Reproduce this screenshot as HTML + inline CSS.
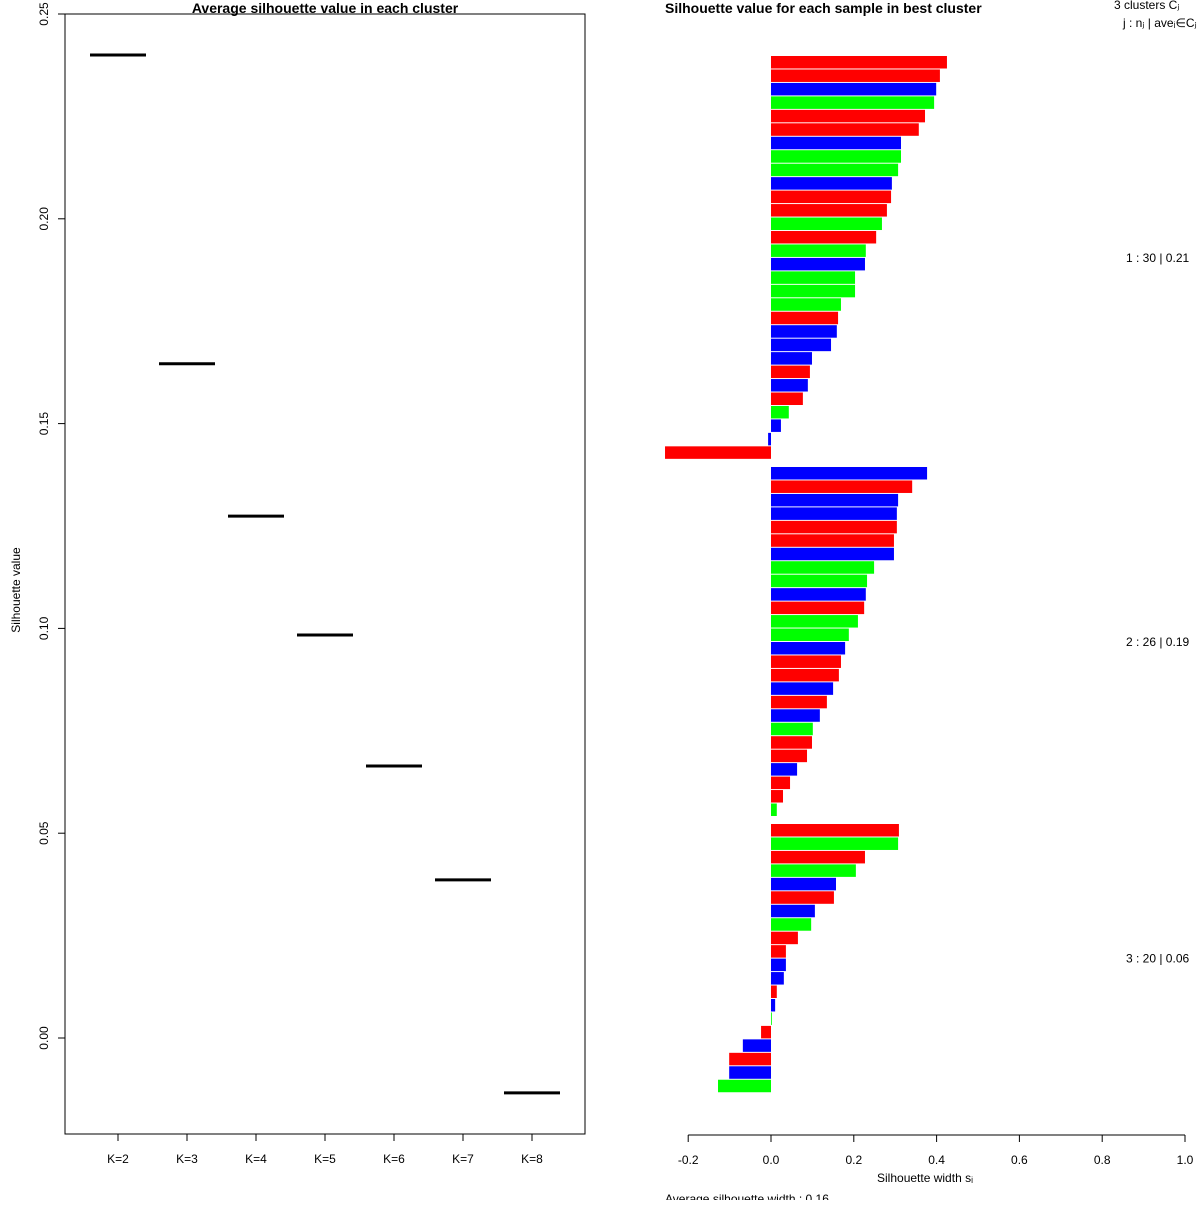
<!DOCTYPE html>
<html><head><meta charset="utf-8"><style>
body{margin:0;background:#fff}
svg text{font-family:"Liberation Sans",sans-serif;fill:#000}
</style></head><body>
<svg id="chart" width="1200" height="1200" xmlns="http://www.w3.org/2000/svg">
<rect width="1200" height="1200" fill="#fff"/>
<g id="left"></g>
<g id="right"></g>
</svg>
<script>
const kLabels=["K=2","K=3","K=4","K=5","K=6","K=7","K=8"];
const avgSil=[0.240,0.1646,0.1274,0.0984,0.0664,0.0386,-0.0134];
const yTicks=[0,0.05,0.10,0.15,0.20,0.25];
const c1Vals=[0.425,0.408,0.399,0.394,0.372,0.357,0.314,0.314,0.307,0.292,0.290,0.280,0.268,0.254,0.229,0.227,0.203,0.203,0.169,0.162,0.159,0.145,0.099,0.094,0.089,0.077,0.043,0.024,-0.007,-0.256];
const c1Cols="RRBGRRBGGBRRGRGBGGGRBBBRBRGBBR";
const c2Vals=[0.377,0.341,0.307,0.304,0.304,0.297,0.297,0.249,0.232,0.229,0.225,0.210,0.188,0.179,0.169,0.164,0.150,0.135,0.118,0.101,0.099,0.087,0.063,0.046,0.029,0.014];
const c2Cols="BRBBRRBGGBRGGBRRBRBGRRBRRG";
const c3Vals=[0.309,0.307,0.227,0.205,0.157,0.152,0.106,0.097,0.065,0.036,0.036,0.031,0.014,0.010,0.002,-0.024,-0.068,-0.101,-0.101,-0.128];
const c3Cols="RGRGBRBGRRBBRBGRBRBG";
const clusterLabels=["1 :  30  |  0.21","2 :  26  |  0.19","3 :  20  |  0.06"];
const xTicks=[-0.2,0,0.2,0.4,0.6,0.8,1.0];
const NS="http://www.w3.org/2000/svg";
function mk(p,t,a,txt){const e=document.createElementNS(NS,t);for(const k in a)e.setAttribute(k,a[k]);if(txt!=null)e.textContent=txt;p.appendChild(e);return e;}
// left
const L=document.getElementById('left');
const yS=v=>1038-v*4096;
const xK=i=>118+i*69;
let e=mk(L,'rect',{x:65,y:14,width:520,height:1120,fill:'none',stroke:'#000'});

e=mk(L,'text',{x:325,y:13,'text-anchor':'middle','font-size':14,'font-weight':'bold'},'Average silhouette value in each cluster');

yTicks.forEach(v=>{const y=yS(v);
 e=mk(L,'line',{x1:58,x2:65,y1:y,y2:y,stroke:'#000'});
 
 e=mk(L,'text',{x:48,y:y,'font-size':12,'text-anchor':'middle',transform:`rotate(-90 48 ${y})`},v.toFixed(2));
 });
e=mk(L,'text',{x:20,y:590,'font-size':12,'text-anchor':'middle',transform:'rotate(-90 20 590)'},'Silhouette value');

kLabels.forEach((k,i)=>{const x=xK(i);
 e=mk(L,'line',{x1:x,x2:x,y1:1134,y2:1141,stroke:'#000'});
 
 e=mk(L,'text',{x:x,y:1163,'font-size':12,'text-anchor':'middle'},k);
 
 const y=yS(avgSil[i]);
 e=mk(L,'line',{x1:x-28,x2:x+28,y1:y,y2:y,stroke:'#000','stroke-width':3});
 });
// right
const R=document.getElementById('right');
const xS=v=>771+v*414;
const col={R:'#ff0000',G:'#00ff00',B:'#0000ff'};
const pitch=13.46;
const clusters=[[c1Vals,c1Cols,56],[c2Vals,c2Cols,467],[c3Vals,c3Cols,824]];
clusters.forEach(([vals,cols,start],ci)=>{
 vals.forEach((v,i)=>{const y=start+i*pitch;const x0=xS(0),x1=xS(v);
  e=mk(R,'rect',{x:Math.min(x0,x1),y:y,width:Math.abs(x1-x0),height:12.5,fill:col[cols[i]]});
  });
 const mid=start+vals.length*pitch/2+4;
 e=mk(R,'text',{x:1126,y:mid,'font-size':12},clusterLabels[ci]);
 
});
e=mk(R,'line',{x1:xS(-0.2),x2:xS(1),y1:1135,y2:1135,stroke:'#000'});

xTicks.forEach(v=>{const x=xS(v);
 e=mk(R,'line',{x1:x,x2:x,y1:1135,y2:1142,stroke:'#000'});
 
 e=mk(R,'text',{x:x,y:1164,'font-size':12,'text-anchor':'middle'},v.toFixed(1));
 });
e=mk(R,'text',{x:925,y:1182,'font-size':12,'text-anchor':'middle'},'Silhouette width sᵢ');

e=mk(R,'text',{x:665,y:1203,'font-size':12},'Average silhouette width : 0.16');

e=mk(R,'text',{x:665,y:13,'font-size':14,'font-weight':'bold'},'Silhouette value for each sample in best cluster');

e=mk(R,'text',{x:1114,y:9,'font-size':12},'3  clusters  Cⱼ');

e=mk(R,'text',{x:1123,y:27,'font-size':12},'j :  nⱼ | aveᵢ∈Cⱼ  sᵢ');

</script>
</body></html>
